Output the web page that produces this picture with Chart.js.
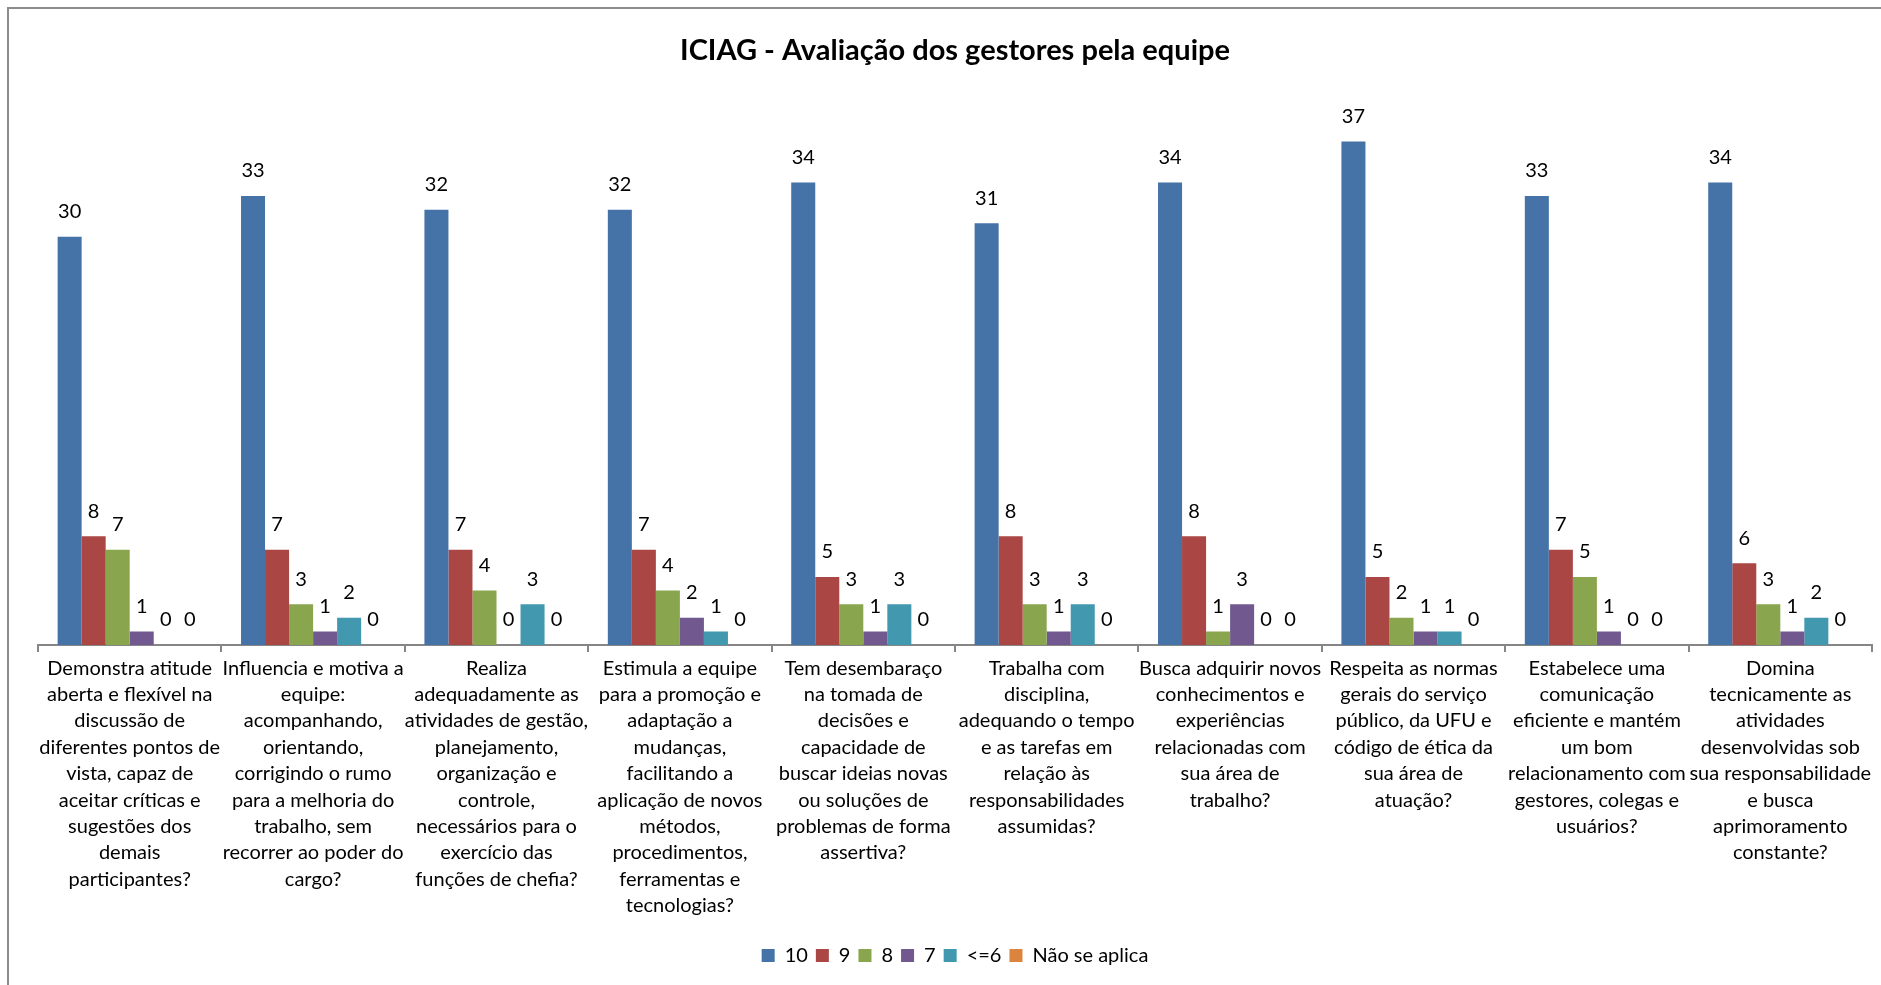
<!DOCTYPE html>
<html><head><meta charset="utf-8">
<script src="https://cdn.jsdelivr.net/npm/chart.js@4.4.0/dist/chart.umd.min.js"></script>
<style>
html,body{margin:0;padding:0;background:#fff;overflow:hidden}
#wrap{position:absolute;left:0;top:0;width:1881px;height:985px}
#frame{position:absolute;left:7px;top:7px;width:1900px;height:1000px;border-left:2px solid #8c8c8c;border-top:2px solid #8c8c8c;pointer-events:none}
</style></head><body>
<div id="wrap"><canvas id="c" width="1881" height="985"></canvas></div>
<div id="frame"></div>
<script>
const categories = [
  ["Demonstra atitude","aberta e flexível na","discussão de","diferentes pontos de","vista, capaz de","aceitar críticas e","sugestões dos","demais","participantes?"],
  ["Influencia e motiva a","equipe:","acompanhando,","orientando,","corrigindo o rumo","para a melhoria do","trabalho, sem","recorrer ao poder do","cargo?"],
  ["Realiza","adequadamente as","atividades de gestão,","planejamento,","organização e","controle,","necessários para o","exercício das","funções de chefia?"],
  ["Estimula a equipe","para a promoção e","adaptação a","mudanças,","facilitando a","aplicação de novos","métodos,","procedimentos,","ferramentas e","tecnologias?"],
  ["Tem desembaraço","na tomada de","decisões e","capacidade de","buscar ideias novas","ou soluções de","problemas de forma","assertiva?"],
  ["Trabalha com","disciplina,","adequando o tempo","e as tarefas em","relação às","responsabilidades","assumidas?"],
  ["Busca adquirir novos","conhecimentos e","experiências","relacionadas com","sua área de","trabalho?"],
  ["Respeita as normas","gerais do serviço","público, da UFU e","código de ética da","sua área de","atuação?"],
  ["Estabelece uma","comunicação","eficiente e mantém","um bom","relacionamento com","gestores, colegas e","usuários?"],
  ["Domina","tecnicamente as","atividades","desenvolvidas sob","sua responsabilidade","e busca","aprimoramento","constante?"]
];
const seriesNames = ["10","9","8","7","<=6","Não se aplica"];
const nota10 = [30,33,32,32,34,31,34,37,33,34];
const nota9  = [8,7,7,7,5,8,8,5,7,6];
const nota8  = [7,3,4,4,3,3,1,2,5,3];
const nota7  = [1,1,0,2,1,1,3,1,1,1];
const nota6ouMenos = [0,2,3,1,3,3,0,1,0,2];
const naoSeAplica  = [0,0,0,0,0,0,0,0,0,0];
const seriesValues = [nota10, nota9, nota8, nota7, nota6ouMenos, naoSeAplica];
const seriesColors = ["#4572A7","#AA4643","#89A54E","#71588F","#4198AF","#DB843D"];

const FONT = "Lato, 'Open Sans', sans-serif";

const valueLabels = {
  id: 'valueLabels',
  afterDatasetsDraw(chart) {
    const ctx = chart.ctx;
    ctx.save();
    ctx.font = "20px " + FONT;
    ctx.fillStyle = "#000";
    ctx.textAlign = "center";
    ctx.textBaseline = "middle";
    chart.data.datasets.forEach((ds, i) => {
      const meta = chart.getDatasetMeta(i);
      meta.data.forEach((bar, j) => {
        ctx.fillText(String(ds.data[j]), bar.x, bar.y - 25);
      });
    });
    ctx.restore();
  }
};

new Chart(document.getElementById('c'), {
  type: 'bar',
  data: {
    labels: categories,
    datasets: seriesNames.map((n, i) => ({
      label: n,
      data: seriesValues[i],
      backgroundColor: seriesColors[i],
      borderWidth: 0,
      categoryPercentage: 0.786,
      barPercentage: 1.0
    }))
  },
  options: {
    responsive: false,
    animation: false,
    devicePixelRatio: 1,
    layout: { padding: { left: 38, right: 9, top: 0, bottom: 9.5 } },
    plugins: {
      title: {
        display: true,
        text: "ICIAG - Avaliação dos gestores pela equipe",
        color: "#000",
        font: { family: FONT, size: 29, weight: 'bold' },
        padding: { top: 33, bottom: 33 }
      },
      legend: {
        position: 'bottom',
        labels: {
          color: "#000",
          font: { family: FONT, size: 20 },
          boxWidth: 13,
          boxHeight: 13,
          padding: 8
        }
      },
      tooltip: { enabled: false }
    },
    scales: {
      y: { display: false, min: 0, max: 40 },
      x: {
        afterFit(scale) { scale.height = 292.5; },
        grid: { display: true, offset: true, drawOnChartArea: false, drawTicks: true, tickLength: 7, color: "#868686", lineWidth: 2 },
        border: { display: true, color: "#868686", width: 2 },
        ticks: {
          autoSkip: false, maxRotation: 0, minRotation: 0, padding: 3,
          color: "#000",
          font: { family: FONT, size: 20, lineHeight: 1.32 }
        }
      }
    }
  },
  plugins: [valueLabels]
});
</script>
</body></html>
